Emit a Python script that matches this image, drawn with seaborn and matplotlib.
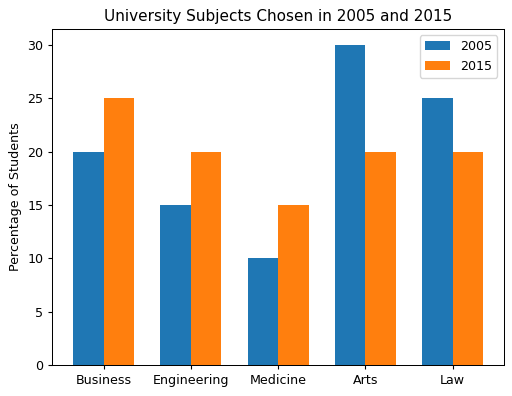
import matplotlib
matplotlib.use("Agg")
import matplotlib.pyplot as plt
import seaborn as sns
import pandas as pd

subjects = ["Business", "Engineering", "Medicine", "Arts", "Law"]
years = ["2005", "2015"]
values_2005 = [20, 15, 10, 30, 25]
values_2015 = [25, 20, 15, 20, 20]

df = pd.DataFrame({
    "Subject": subjects * 2,
    "Year": [years[0]] * len(subjects) + [years[1]] * len(subjects),
    "Percentage": values_2005 + values_2015,
})

s = 0.913
plt.rcParams["font.size"] = 10 * s
plt.rcParams["xtick.major.size"] = 3.5 * s
plt.rcParams["ytick.major.size"] = 3.5 * s
plt.rcParams["axes.linewidth"] = 0.8 * s

fig, ax = plt.subplots(figsize=(5.12, 3.96), dpi=100)
sns.barplot(data=df, x="Subject", y="Percentage", hue="Year",
            palette=["#1f77b4", "#ff7f0e"], saturation=1, width=0.7,
            errorbar=None, ax=ax)
ax.set_xlabel("")
ax.set_ylabel("Percentage of Students")
ax.set_title("University Subjects Chosen in 2005 and 2015")
ax.legend(loc="upper right", title=None)
ax.set_xlim(-0.585, 4.585)
ax.set_ylim(0, 31.5)
fig.subplots_adjust(left=0.1025, right=0.984, top=0.927, bottom=0.0783)
fig.savefig("out.png", dpi=100)
